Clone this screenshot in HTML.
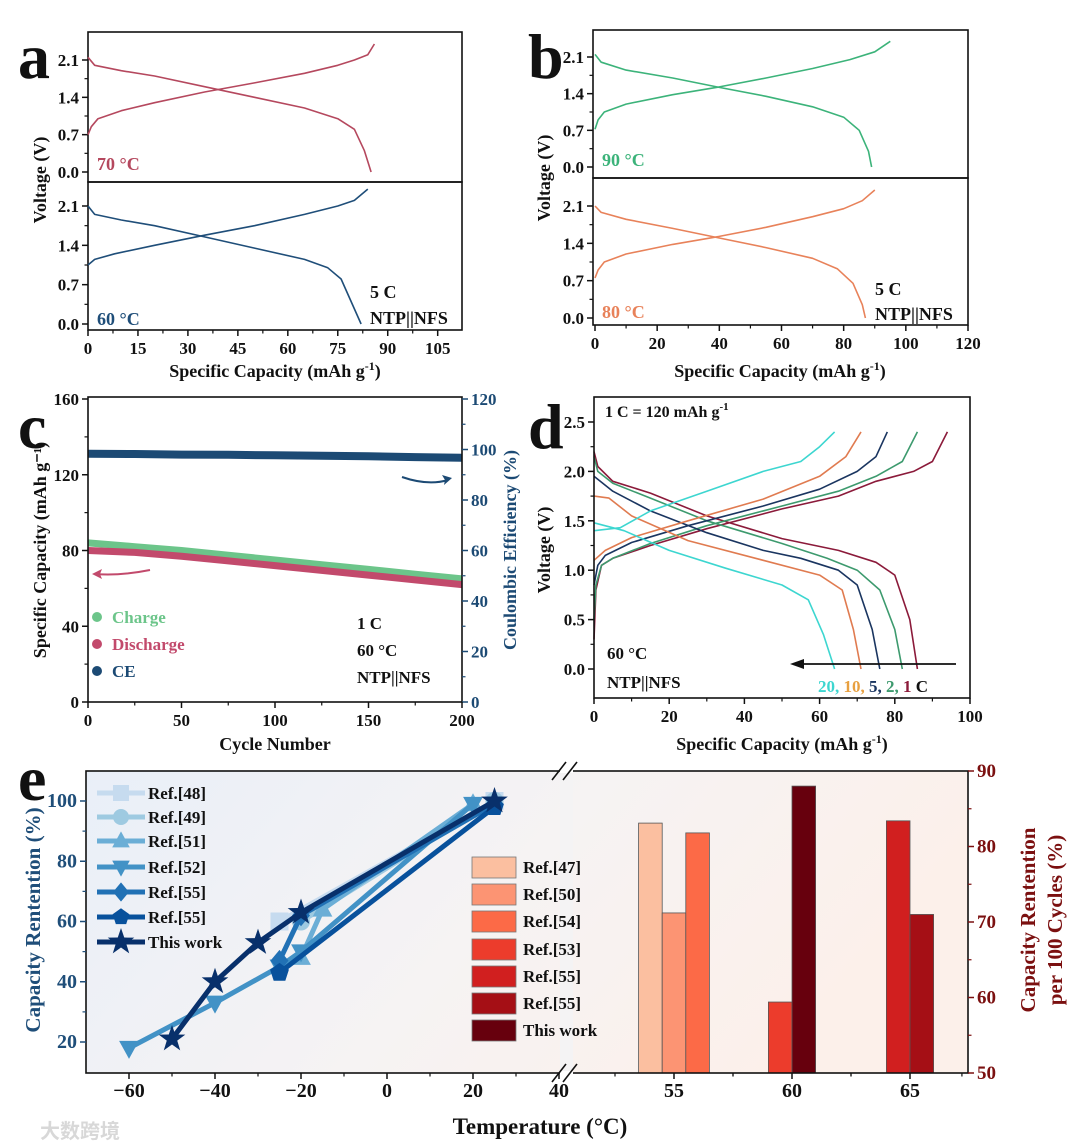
<!DOCTYPE html>
<html><head><meta charset="utf-8"><style>
html,body{margin:0;padding:0;background:#fff;}
svg{display:block;font-family:"Liberation Serif",serif;font-weight:bold;}
</style></head><body>
<svg id="fig" width="1080" height="1148" viewBox="0 0 1080 1148" xmlns="http://www.w3.org/2000/svg">
<defs>
<linearGradient id="bgE" x1="0" y1="0" x2="1" y2="0.3">
<stop offset="0" stop-color="#e9eff8"/><stop offset="0.55" stop-color="#f6f3f3"/><stop offset="1" stop-color="#fcf0ea"/>
</linearGradient>
</defs>
</svg>
<script>
// ---------- Panel a data ----------
const a70ChargeCap=[0,1,3,10,20,35,50,65,75,80,84,86];
const a70ChargeV=[0.7,0.85,1.0,1.15,1.3,1.5,1.67,1.85,2.0,2.1,2.2,2.4];
const a70DisCap=[0,2,10,20,35,50,65,75,80,83,85];
const a70DisV=[2.15,2.0,1.9,1.8,1.6,1.4,1.2,1.0,0.8,0.4,0.0];
const a60ChargeCap=[0,2,8,20,35,50,65,75,80,84];
const a60ChargeV=[1.05,1.15,1.25,1.4,1.58,1.75,1.95,2.1,2.2,2.4];
const a60DisCap=[0,2,10,20,35,50,65,72,76,79,82];
const a60DisV=[2.1,1.95,1.85,1.75,1.55,1.35,1.15,1.0,0.8,0.4,0.0];
// ---------- Panel b data ----------
const b90ChargeCap=[0,1,3,10,25,40,55,70,82,90,95];
const b90ChargeV=[0.72,0.9,1.05,1.2,1.38,1.53,1.7,1.88,2.05,2.2,2.4];
const b90DisCap=[0,2,10,25,40,55,70,80,85,88,89];
const b90DisV=[2.15,2.0,1.85,1.7,1.52,1.35,1.15,0.95,0.7,0.3,0.0];
const b80ChargeCap=[0,1,3,10,25,40,55,70,80,86,90];
const b80ChargeV=[0.75,0.9,1.05,1.2,1.38,1.53,1.7,1.9,2.05,2.2,2.4];
const b80DisCap=[0,2,10,25,40,55,70,78,83,86,87];
const b80DisV=[2.1,1.98,1.85,1.68,1.5,1.32,1.12,0.92,0.65,0.25,0.0];
// ---------- Panel c data ----------
const cCycles=[0,25,50,75,100,125,150,175,200];
const cCharge=[84,82,80,77.5,75,72.5,70,67.5,65];
const cDischarge=[80,79,77,74.5,72,69.5,67,64.5,62];
const cCE=[98.3,98.2,98,97.9,97.7,97.5,97.3,97,96.7];
// ---------- Panel d data ----------
const dRates=['1','2','5','10','20'];
const d1cC=[0,0.5,2,5,15,30,50,65,75,85,90,94];
const d1cV=[0.3,0.8,1.05,1.12,1.25,1.42,1.62,1.75,1.9,2.0,2.1,2.4];
const d1dC=[0,1,5,15,30,50,65,75,80,84,86];
const d1dV=[2.2,2.05,1.9,1.78,1.55,1.32,1.2,1.08,0.95,0.5,0.0];
const d2cC=[0,0.5,2,5,15,30,50,65,75,82,86];
const d2cV=[0.5,0.85,1.05,1.12,1.27,1.45,1.65,1.8,1.95,2.1,2.4];
const d2dC=[0,1,5,15,30,50,62,70,76,80,82];
const d2dV=[2.15,2.0,1.88,1.73,1.5,1.27,1.12,1.0,0.8,0.4,0];
const d5cC=[0,1,3,10,25,45,60,70,75,78];
const d5cV=[0.85,1.05,1.15,1.28,1.45,1.65,1.82,2.0,2.15,2.4];
const d5dC=[0,5,15,30,45,55,65,70,74,76];
const d5dV=[1.95,1.8,1.6,1.38,1.2,1.12,1.0,0.85,0.4,0];
const d10cC=[0,3,10,25,45,60,67,71];
const d10cV=[1.1,1.2,1.33,1.5,1.72,1.95,2.15,2.4];
const d10dC=[0,4,10,25,45,60,66,69,71];
const d10dV=[1.75,1.73,1.55,1.3,1.1,0.95,0.8,0.4,0];
const d20cC=[0,7,15,30,45,55,60,64];
const d20cV=[1.4,1.43,1.6,1.8,2.0,2.1,2.25,2.4];
const d20dC=[0,8,20,35,50,57,61,64];
const d20dV=[1.48,1.4,1.2,1.02,0.85,0.7,0.35,0];
// ---------- Panel e data ----------
const eNames=['Ref.[48]','Ref.[49]','Ref.[51]','Ref.[52]','Ref.[55]','Ref.[55]','This work'];
const eT48=[-25,25]; const eR48=[60,100];
const eT49=[-20,25]; const eR49=[60,100];
const eT51=[-20,-15,20]; const eR51=[48,64,99];
const eT52=[-60,-40,-25,-20,20]; const eR52=[18,33,45,50,99];
const eT55a=[-25,-20,25]; const eR55a=[47,62,99];
const eT55b=[-25,25]; const eR55b=[43,98];
const eTthis=[-50,-40,-30,-20,25]; const eRthis=[21,40,53,63,100];
const barNames=['Ref.[47]','Ref.[50]','Ref.[54]','Ref.[53]','Ref.[55]','Ref.[55]','This work'];
const barTemps=[55,55,55,60,65,65,60];
const barOffsets=[-1,0,1,-0.5,-0.5,0.5,0.5];
const barValues=[83.1,71.2,81.8,59.4,83.4,71.0,88.0];

const NS='http://www.w3.org/2000/svg';
const svg=document.getElementById('fig');
function mk(tag,attrs,parent){const e=document.createElementNS(NS,tag);for(const k in attrs)e.setAttribute(k,attrs[k]);(parent||svg).appendChild(e);return e;}
function lin(d0,d1,r0,r1){return v=>r0+(v-d0)*(r1-r0)/(d1-d0);}
function txt(x,y,s,size,fill,anchor,name){const t=mk('text',{x:x,y:y,'font-size':size,fill:fill||'#111','text-anchor':anchor||'start'});t.textContent=s;


return t;}
function vtxt(x,y,s,size,fill,name){const t=mk('text',{x:0,y:0,'font-size':size,fill:fill,'text-anchor':'middle',transform:`translate(${x},${y}) rotate(-90)`});t.textContent=s;


return t;}
function curve(xs,ys,sx,sy,color,name,w){let d='';xs.forEach((v,i)=>{d+=(i?'L':'M')+sx(v).toFixed(1)+','+sy(ys[i]).toFixed(1);});const p=mk('path',{d:d,fill:'none',stroke:color,'stroke-width':w||1.6,'stroke-linejoin':'round'});


return p;}
function box(x0,y0,x1,y1,name){const r=mk('rect',{x:x0,y:y0,width:x1-x0,height:y1-y0,fill:'none',stroke:'#111','stroke-width':1.6});

}
function yTicks(vals,sy,x,labels,color,side,minor,size){vals.forEach((v,i)=>{const y=sy(v);const dir=side==='right'?1:-1;mk('line',{x1:x,y1:y,x2:x+dir*6,y2:y,stroke:color||'#111','stroke-width':1.5});
if(labels){txt(x+dir*9,y+6,labels[i],size||17,color||'#111',side==='right'?'start':'end','y-tick-label');}
if(minor&&i<vals.length-1){const ym=(y+sy(vals[i+1]))/2;mk('line',{x1:x,y1:ym,x2:x+dir*3.5,y2:ym,stroke:color||'#111','stroke-width':1.2});}});}
function xTicks(vals,sx,y,labels,size,minor){vals.forEach((v,i)=>{const x=sx(v);mk('line',{x1:x,y1:y,x2:x,y2:y+6,stroke:'#111','stroke-width':1.5});
txt(x,y+24,labels[i],size||17,'#111','middle','x-tick-label');
if(minor&&i<vals.length-1){const xm=(x+sx(vals[i+1]))/2;mk('line',{x1:xm,y1:y,x2:xm,y2:y+3.5,stroke:'#111','stroke-width':1.2});}});}

// ===== Panel a =====
{const sx=lin(0,112.3,88,462);const syT=lin(0,2.1,172,60);const syB=lin(0,2.1,324,206);
box(88,32,462,182,'panel-a-top-plot');box(88,182,462,330,'panel-a-bottom-plot');
const yv=[0,0.7,1.4,2.1],yl=['0.0','0.7','1.4','2.1'];
yTicks(yv,syT,88,yl,null,'left',true);yTicks(yv,syB,88,yl,null,'left',true);
const xv=[0,15,30,45,60,75,90,105];xTicks(xv,sx,330,xv.map(String),17,true);
curve(a70ChargeCap,a70ChargeV,sx,syT,'#b5485e','a-70c-charge');curve(a70DisCap,a70DisV,sx,syT,'#b5485e','a-70c-discharge');
curve(a60ChargeCap,a60ChargeV,sx,syB,'#1f4e79','a-60c-charge');curve(a60DisCap,a60DisV,sx,syB,'#1f4e79','a-60c-discharge');
txt(97,170,'70 °C',18,'#b5485e','start','a-70c-label');txt(97,325,'60 °C',18,'#1f4e79','start','a-60c-label');
txt(370,298,'5 C',18,'#111','start','a-rate');txt(370,324,'NTP||NFS',18,'#111','start','a-cell');
vtxt(46,180,'Voltage (V)',18,'#111','a-y-axis-title');
const t=txt(275,377,'Specific Capacity (mAh g',18,'#111','middle','a-x-axis-title');const s=mk('tspan',{dy:-7,'font-size':12},t);s.textContent='-1';const s2=mk('tspan',{dy:7},t);s2.textContent=')';
txt(18,78,'a',64,'#111','start','panel-a-letter');}

// ===== Panel b =====
{const sx=lin(0,120,595,968);const syT=lin(0,2.1,167,57);const syB=lin(0,2.1,318,206);
box(593,30,968,178,'panel-b-top-plot');box(593,178,968,325,'panel-b-bottom-plot');
const yv=[0,0.7,1.4,2.1],yl=['0.0','0.7','1.4','2.1'];
yTicks(yv,syT,593,yl,null,'left',true);yTicks(yv,syB,593,yl,null,'left',true);
const xv=[0,20,40,60,80,100,120];xTicks(xv,sx,325,xv.map(String),17,true);
curve(b90ChargeCap,b90ChargeV,sx,syT,'#3cb37a','b-90c-charge');curve(b90DisCap,b90DisV,sx,syT,'#3cb37a','b-90c-discharge');
curve(b80ChargeCap,b80ChargeV,sx,syB,'#e8825a','b-80c-charge');curve(b80DisCap,b80DisV,sx,syB,'#e8825a','b-80c-discharge');
txt(602,166,'90 °C',18,'#3cb37a','start','b-90c-label');txt(602,318,'80 °C',18,'#e8825a','start','b-80c-label');
txt(875,295,'5 C',18,'#111','start','b-rate');txt(875,320,'NTP||NFS',18,'#111','start','b-cell');
vtxt(550,178,'Voltage (V)',18,'#111','b-y-axis-title');
const t=txt(780,377,'Specific Capacity (mAh g',18,'#111','middle','b-x-axis-title');const s=mk('tspan',{dy:-7,'font-size':12},t);s.textContent='-1';const s2=mk('tspan',{dy:7},t);s2.textContent=')';
txt(528,78,'b',64,'#111','start','panel-b-letter');}

// ===== Panel c =====
{const sx=lin(0,200,88,462);const syL=lin(0,160,702,399);const syR=lin(0,120,702,399);
curve(cCycles,cCharge,sx,syL,'#6cc58a','c-charge-series',7);
curve(cCycles,cDischarge,sx,syL,'#c24a6c','c-discharge-series',7);
curve(cCycles,cCE,sx,syR,'#1c4a74','c-ce-series',8);
box(88,397,462,702,'panel-c-plot');
yTicks([0,40,80,120,160],syL,88,['0','40','80','120','160'],null,'left',true);
yTicks([0,20,40,60,80,100,120],syR,462,['0','20','40','60','80','100','120'],'#1c4a74','right',true);
xTicks([0,50,100,150,200],sx,702,['0','50','100','150','200'],17,true);
mk('path',{d:'M150,570 Q120,576 95,574',fill:'none',stroke:'#c24a6c','stroke-width':2});mk('path',{d:'M92,574 l10,-5 l-2,5 l2,5 z',fill:'#c24a6c'});
mk('path',{d:'M402,477 Q428,486 448,480',fill:'none',stroke:'#1c4a74','stroke-width':2});mk('path',{d:'M452,478 l-10,-3 l3,5 l-1,5 z',fill:'#1c4a74'});
const lg=[['Charge','#6cc58a',623],['Discharge','#c24a6c',650],['CE','#1c4a74',677]];
lg.forEach(l=>{const c=mk('circle',{cx:97,cy:l[2]-6,r:5,fill:l[1]});


txt(112,l[2],l[0],17,l[1],'start','c-legend-label');});
txt(357,629,'1 C',17,'#111','start','c-rate');txt(357,656,'60 °C',17,'#111','start','c-temp');txt(357,683,'NTP||NFS',17,'#111','start','c-cell');
vtxt(46,550,'Specific Capacity (mAh g⁻¹)',18,'#111','c-left-axis-title');
vtxt(516,550,'Coulombic Efficiency (%)',18,'#1c4a74','c-right-axis-title');
txt(275,750,'Cycle Number',18,'#111','middle','c-x-axis-title');
txt(18,448,'c',64,'#111','start','panel-c-letter');}

// ===== Panel d =====
{const sx=lin(0,100,594,970);const sy=lin(0,2.5,669,422);
const cols=['#8b1a3a','#3d9a6e','#1a3560','#e07b50','#3dd6d0'];
const sets=[[d1cC,d1cV,d1dC,d1dV],[d2cC,d2cV,d2dC,d2dV],[d5cC,d5cV,d5dC,d5dV],[d10cC,d10cV,d10dC,d10dV],[d20cC,d20cV,d20dC,d20dV]];
sets.forEach((s,i)=>{curve(s[0],s[1],sx,sy,cols[i],'d-'+dRates[i]+'c-charge');curve(s[2],s[3],sx,sy,cols[i],'d-'+dRates[i]+'c-discharge');});
box(594,397,970,698,'panel-d-plot');
yTicks([0,0.5,1,1.5,2,2.5],sy,594,['0.0','0.5','1.0','1.5','2.0','2.5'],null,'left',true);
xTicks([0,20,40,60,80,100],sx,698,['0','20','40','60','80','100'],17,true);
mk('line',{x1:956,y1:664,x2:800,y2:664,stroke:'#111','stroke-width':1.8});mk('path',{d:'M790,664 l14,-5 l0,10 z',fill:'#111'});
const t=txt(605,417,'1 C = 120 mAh g',16,'#111','start','d-rate-note');const sp=mk('tspan',{dy:-7,'font-size':11},t);sp.textContent='-1';
txt(607,659,'60 °C',17,'#111','start','d-temp');txt(607,688,'NTP||NFS',17,'#111','start','d-cell');
const rl=txt(818,692,'',17,'#111','start','d-rate-labels');
[['20, ','#3dd6d0'],['10, ','#e8a040'],['5, ','#1a3560'],['2, ','#3d9a6e'],['1 ','#8b1a3a'],['C','#111']].forEach(p=>{const s=mk('tspan',{fill:p[1]},rl);s.textContent=p[0];});
vtxt(550,550,'Voltage (V)',18,'#111','d-y-axis-title');
const t2=txt(782,750,'Specific Capacity (mAh g',18,'#111','middle','d-x-axis-title');const s=mk('tspan',{dy:-7,'font-size':12},t2);s.textContent='-1';const s2=mk('tspan',{dy:7},t2);s2.textContent=')';
txt(528,448,'d',64,'#111','start','panel-d-letter');}

// ===== Panel e =====
{const X0=86,X1=968,Y0=771,Y1=1073;
const bg=mk('rect',{x:X0,y:Y0,width:X1-X0,height:Y1-Y0,fill:'url(#bgE)'});


const sxL=lin(0,20,387,473);const syL=lin(20,100,1042,801);
const sxR=lin(55,60,674,792);const syR=lin(50,90,1073,771);
const bcols=['#fbbfa0','#fc9473','#fc6a47','#ec3c2c','#d11f1f','#a50f15','#67000d'];
const bw=sxR(56)-sxR(55);
barValues.forEach((v,i)=>{const cx=sxR(barTemps[i]+barOffsets[i]);
const r=mk('rect',{x:cx-bw/2,y:syR(v),width:bw,height:syR(50)-syR(v),fill:bcols[i],stroke:'#555','stroke-width':0.8});

});
const lcols=['#c6dbef','#9ecae1','#6baed6','#4292c6','#2171b5','#08519c','#08306b'];
const series=[[eT48,eR48],[eT49,eR49],[eT51,eR51],[eT52,eR52],[eT55a,eR55a],[eT55b,eR55b],[eTthis,eRthis]];
const shapes=['sq','ci','tu','td','di','pe','st'];
function marker(x,y,sh,col,sz){let d;const s=sz||9;
if(sh==='sq')d=`M${x-s},${y-s}h${2*s}v${2*s}h${-2*s}z`;
else if(sh==='ci')return mk('circle',{cx:x,cy:y,r:s,fill:col});
else if(sh==='tu')d=`M${x},${y-s*1.2}L${x+s*1.1},${y+s*0.8}L${x-s*1.1},${y+s*0.8}z`;
else if(sh==='td')d=`M${x},${y+s*1.2}L${x+s*1.1},${y-s*0.8}L${x-s*1.1},${y-s*0.8}z`;
else if(sh==='di')d=`M${x},${y-s*1.2}L${x+s},${y}L${x},${y+s*1.2}L${x-s},${y}z`;
else if(sh==='pe'){d='';for(let k=0;k<5;k++){const a=-Math.PI/2+k*2*Math.PI/5;d+=(k?'L':'M')+(x+s*1.1*Math.cos(a))+','+(y+s*1.1*Math.sin(a));}d+='z';}
else{d='';for(let k=0;k<10;k++){const a=-Math.PI/2+k*Math.PI/5;const rr=k%2?s*0.55:s*1.4;d+=(k?'L':'M')+(x+rr*Math.cos(a))+','+(y+rr*Math.sin(a));}d+='z';}
return mk('path',{d:d,fill:col});}
series.forEach((s,i)=>{curve(s[0],s[1],sxL,syL,lcols[i],'e-line-'+i,5);
s[0].forEach((t,j)=>{const m=marker(sxL(t),syL(s[1][j]),shapes[i],lcols[i],i===6?10:9);

});});
box(X0,Y0,X1,Y1,'panel-e-plot');
const gap=mk('rect',{x:560,y:Y0-3,width:13,height:Y1-Y0+6,fill:'#fff'});


mk('rect',{x:560,y:Y0+2,width:13,height:Y1-Y0-4,fill:'#f4f3f4'});
['M552,780 L566,762','M563,780 L577,762','M552,1082 L566,1064','M563,1082 L577,1064'].forEach(d=>{const p=mk('path',{d:d,stroke:'#111','stroke-width':1.6});

});
yTicks([20,40,60,80,100],syL,X0,['20','40','60','80','100'],'#1f4e79','left',true,20);
yTicks([50,60,70,80,90],syR,X1,['50','60','70','80','90'],'#7b1010','right',true,19);
xTicks([-60,-40,-20,0,20,40],sxL,Y1,['−60','−40','−20','0','20','40'],20,true);
xTicks([55,60,65],sxR,Y1,['55','60','65'],20,true);
[sxR(52.5),sxR(57.5),sxR(62.5),sxR(67.2)].forEach(x=>{if(x<X1)mk('line',{x1:x,y1:Y1,x2:x,y2:Y1+3.5,stroke:'#111','stroke-width':1.2});});
const ly=[793,817,841,867,892,917,942];
eNames.forEach((n,i)=>{const l=mk('line',{x1:97,y1:ly[i],x2:145,y2:ly[i],stroke:lcols[i],'stroke-width':5});


marker(121,ly[i],shapes[i],lcols[i],i===6?10:8);
txt(148,ly[i]+6,n,17,'#111','start','e-legend-label');});
const by=[857,884,911,939,966,993,1020];
barNames.forEach((n,i)=>{const r=mk('rect',{x:472,y:by[i],width:44,height:21,fill:bcols[i],stroke:'#777','stroke-width':0.8});


txt(523,by[i]+16,n,17,'#111','start','bar-legend-label');});
vtxt(40,920,'Capacity Rentention (%)',21,'#1f4e79','e-left-axis-title');
vtxt(1035,920,'Capacity Rentention',21,'#7b1010','e-right-axis-title-1');
vtxt(1062,920,'per 100 Cycles (%)',21,'#7b1010','e-right-axis-title-2');
txt(540,1134,'Temperature (°C)',23,'#111','middle','e-x-axis-title');
txt(18,800,'e',64,'#111','start','panel-e-letter');
const wm=txt(40,1138,'大数跨境',20,'#d8d8d8','start','watermark');wm.setAttribute('font-family','"Liberation Sans","Noto Sans CJK SC",sans-serif');}
</script>
</body></html>
